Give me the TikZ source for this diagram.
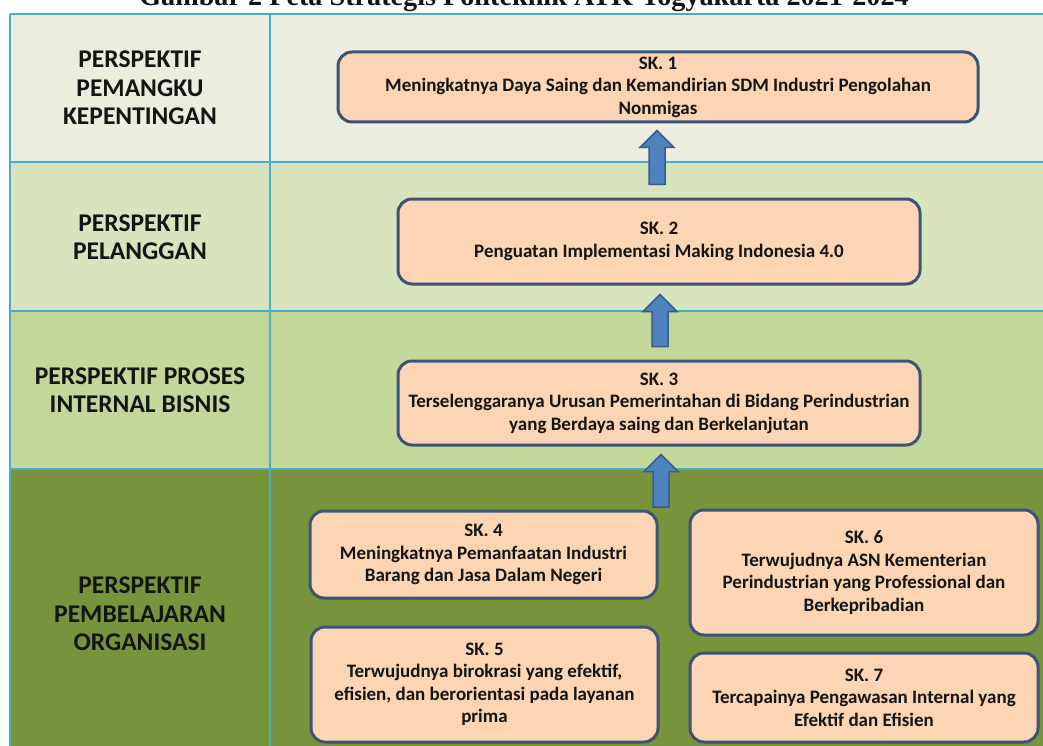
\documentclass[tikz,border=0pt]{standalone}
\usepackage{fontspec}
\setmainfont{Carlito}
\newfontfamily\titlefont{Liberation Serif}
\usetikzlibrary{calc}

\definecolor{rowA}{HTML}{EBEEDF}
\definecolor{rowB}{HTML}{D8E4BD}
\definecolor{rowC}{HTML}{C4D79B}
\definecolor{rowD}{HTML}{77933C}
\definecolor{gridline}{HTML}{4BACC6}
\definecolor{skfill}{HTML}{FCD5B4}
\definecolor{skline}{HTML}{3B5475}
\definecolor{arrowfill}{HTML}{4F81BD}
\definecolor{arrowline}{HTML}{385D8A}
\definecolor{ink}{HTML}{141414}

% upward block arrow: #1 = middle of the base, #2 = tip
\newcommand\blockarrow[2]{%
  \draw[barrow] let \p1=#1, \p2=#2 in
    (\x1-8pt,\y1) -- (\x1-8pt,\y2-17pt) -- (\x1-17pt,\y2-17pt) --
    (\x1,\y2) -- (\x1+17pt,\y2-17pt) -- (\x1+8pt,\y2-17pt) --
    (\x1+8pt,\y1) -- cycle;}

\begin{document}
\begin{tikzpicture}[x=1pt,y=-1pt,
  lab/.style={align=center,text=ink,font=\bfseries\fontsize{25.5}{28.5}\selectfont},
  sk/.style={draw=skline,fill=skfill,line width=3pt,rounded corners=14pt,
    align=center,text=ink,inner sep=0pt,
    font=\bfseries\fontsize{19}{22.5}\selectfont},
  barrow/.style={draw=arrowline,fill=arrowfill,line width=1.5pt,line join=miter},
  grid/.style={draw=gridline,line width=2pt}]
\useasboundingbox (0,0) rectangle (1043,746);
\clip (0,0) rectangle (1043,746);
\fill[white] (0,0) rectangle (1043,746);

% heading
\node[anchor=base,text=ink,font=\titlefont\bfseries\fontsize{28.2}{31}\selectfont]
  (title) at (524,6) {Gambar 2 Peta Strategis Politeknik ATK Yogyakarta 2021-2024};

% perspective bands
\fill[rowA] (10,14) rectangle (1043,162.5);
\fill[rowB] (10,162.5) rectangle (1043,310.5);
\fill[rowC] (10,310.5) rectangle (1043,468.5);
\fill[rowD] (10,468.5) rectangle (1043,746);
\foreach \yy in {14,162.5,310.5,468.5} \draw[grid] (10,\yy) -- (1043,\yy);
\draw[grid] (10,14) -- (10,746);
\draw[grid] (270,14) -- (270,746);

% perspective names
\node[lab] (p1) at (140,88) {PERSPEKTIF\\PEMANGKU\\KEPENTINGAN};
\node[lab] (p2) at (140,237) {PERSPEKTIF\\PELANGGAN};
\node[lab] (p3) at (140,390) {PERSPEKTIF PROSES\\INTERNAL BISNIS};
\node[lab] (p4) at (140,614) {PERSPEKTIF\\PEMBELAJARAN\\ORGANISASI};

% strategic goals
\node[sk,minimum width=640,minimum height=70] (sk1) at (658,87)
  {SK. 1\\Meningkatnya Daya Saing dan Kemandirian SDM Industri Pengolahan\\Nonmigas};
\node[sk,minimum width=522,minimum height=85] (sk2) at (659,241.5)
  {SK. 2\\Penguatan Implementasi Making Indonesia 4.0};
\node[sk,minimum width=522,minimum height=84] (sk3) at (659,403)
  {SK. 3\\Terselenggaranya Urusan Pemerintahan di Bidang Perindustrian\\yang Berdaya saing dan Berkelanjutan};
\node[sk,minimum width=347,minimum height=87] (sk4) at (483.5,554.5)
  {SK. 4\\Meningkatnya Pemanfaatan Industri\\Barang dan Jasa Dalam Negeri};
\node[sk,minimum width=347,minimum height=115] (sk5) at (484.5,684.5)
  {SK. 5\\Terwujudnya birokrasi yang efektif,\\efisien, dan berorientasi pada layanan\\prima};
\node[sk,minimum width=348,minimum height=125] (sk6) at (864,572.5)
  {SK. 6\\Terwujudnya ASN Kementerian\\Perindustrian yang Professional dan\\Berkepribadian};
\node[sk,minimum width=348,minimum height=89] (sk7) at (864,697.5)
  {SK. 7\\Tercapainya Pengawasan Internal yang\\Efektif dan Efisien};

% upward links
\coordinate (base3) at (661,507);
\blockarrow{($(sk2.north)+(-2,-13)$)}{($(sk1.south)+(0,7)$)}
\blockarrow{($(sk3.north)+(1,-13)$)}{($(sk2.south)+(0,9)$)}
\blockarrow{(base3)}{($(sk3.south)+(0,8)$)}
\end{tikzpicture}
\end{document}
